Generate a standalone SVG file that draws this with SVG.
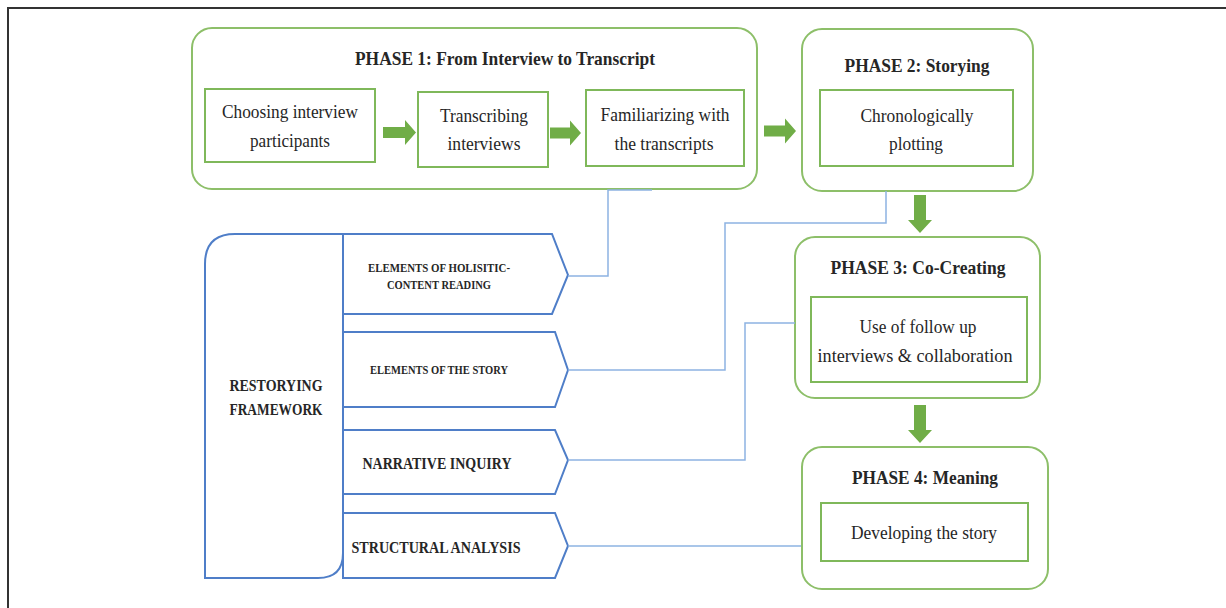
<svg xmlns="http://www.w3.org/2000/svg" width="1226" height="608" viewBox="0 0 1226 608">
<style>
.phase{fill:#fff;stroke:#8dbf69;stroke-width:2}
.inner{fill:#fff;stroke:#7fb85a;stroke-width:2}
.garrow{fill:#70ad47}
.blue{fill:#fff;stroke:#4f7ec8;stroke-width:2;stroke-linejoin:miter}
.conn{fill:none;stroke:#8db3e2;stroke-width:1.5}
.t{font-family:"Liberation Serif","Times New Roman",serif;fill:#262626;text-anchor:middle}
.title{font-size:19px;font-weight:bold}
.body{font-size:19px}
.cap{font-weight:bold}
</style>
<g id="frame"><path d="M8,608 L8,8 L1226,8" fill="none" stroke="#333" stroke-width="2"/></g>

<g id="phase1">
<rect class="phase" x="192" y="28" width="565" height="161" rx="20"/>
<text class="t title" x="505" y="65" textLength="300" lengthAdjust="spacingAndGlyphs">PHASE 1: From Interview to Transcript</text>
</g>
<g id="choosing">
<rect class="inner" x="205" y="89" width="170" height="73"/>
<text class="t body" x="290" y="118" textLength="136" lengthAdjust="spacingAndGlyphs">Choosing interview</text>
<text class="t body" x="290" y="147" textLength="80" lengthAdjust="spacingAndGlyphs">participants</text>
</g>
<g id="transcribing">
<rect class="inner" x="418" y="92" width="130" height="75"/>
<text class="t body" x="484" y="122" textLength="88" lengthAdjust="spacingAndGlyphs">Transcribing</text>
<text class="t body" x="484" y="150" textLength="73" lengthAdjust="spacingAndGlyphs">interviews</text>
</g>
<g id="familiarizing">
<rect class="inner" x="586" y="90" width="158" height="76"/>
<text class="t body" x="665" y="121" textLength="129" lengthAdjust="spacingAndGlyphs">Familiarizing with</text>
<text class="t body" x="664" y="150" textLength="99" lengthAdjust="spacingAndGlyphs">the transcripts</text>
</g>

<g id="phase2">
<rect class="phase" x="802" y="29" width="231" height="162" rx="20"/>
<text class="t title" x="917" y="72" textLength="145" lengthAdjust="spacingAndGlyphs">PHASE 2: Storying</text>
<rect class="inner" x="820" y="90" width="193" height="76"/>
<text class="t body" x="917" y="122" textLength="113" lengthAdjust="spacingAndGlyphs">Chronologically</text>
<text class="t body" x="916" y="150" textLength="54" lengthAdjust="spacingAndGlyphs">plotting</text>
</g>

<g id="phase3">
<rect class="phase" x="795" y="237" width="245" height="161" rx="20"/>
<text class="t title" x="918" y="274" textLength="175" lengthAdjust="spacingAndGlyphs">PHASE 3: Co-Creating</text>
<rect class="inner" x="811" y="297" width="216" height="85"/>
<text class="t body" x="918" y="333" textLength="117" lengthAdjust="spacingAndGlyphs">Use of follow up</text>
<text class="t body" x="915" y="362" textLength="195" lengthAdjust="spacingAndGlyphs">interviews &amp; collaboration</text>
</g>

<g id="phase4">
<rect class="phase" x="802" y="447" width="246" height="142" rx="20"/>
<text class="t title" x="925" y="484" textLength="146" lengthAdjust="spacingAndGlyphs">PHASE 4: Meaning</text>
<rect class="inner" x="821" y="503" width="207" height="58"/>
<text class="t body" x="924" y="539" textLength="146" lengthAdjust="spacingAndGlyphs">Developing the story</text>
</g>

<g id="restorying">
<path class="blue" d="M205,578 L205,264 Q205,234 235,234 L343,234 L343,553 Q343,578 318,578 Z"/>
<text class="t cap" style="font-size:16px" x="276" y="391" textLength="93" lengthAdjust="spacingAndGlyphs">RESTORYING</text>
<text class="t cap" style="font-size:16px" x="276" y="415" textLength="93" lengthAdjust="spacingAndGlyphs">FRAMEWORK</text>
</g>
<g id="holistic">
<polygon class="blue" points="343,234 552,234 568,275 552,314 343,314"/>
<text class="t cap" style="font-size:11.5px" x="439" y="272" textLength="142" lengthAdjust="spacingAndGlyphs">ELEMENTS OF HOLISITIC-</text>
<text class="t cap" style="font-size:11.5px" x="439" y="289" textLength="104" lengthAdjust="spacingAndGlyphs">CONTENT READING</text>
</g>
<g id="story">
<polygon class="blue" points="343,332 555,332 568,370 555,407 343,407"/>
<text class="t cap" style="font-size:11.5px" x="439" y="374" textLength="138" lengthAdjust="spacingAndGlyphs">ELEMENTS OF THE STORY</text>
</g>
<g id="narrative">
<polygon class="blue" points="343,430 555,430 568,460 555,494 343,494"/>
<text class="t cap" style="font-size:16px" x="437" y="469" textLength="149" lengthAdjust="spacingAndGlyphs">NARRATIVE INQUIRY</text>
</g>
<g id="structural">
<polygon class="blue" points="343,513 555,513 568,546 555,578 343,578"/>
<text class="t cap" style="font-size:16px" x="436" y="553" textLength="169" lengthAdjust="spacingAndGlyphs">STRUCTURAL ANALYSIS</text>
</g>

<g id="connectors">
<polyline class="conn" points="568,276 608,276 608,190 652,190"/>
<polyline class="conn" points="568,370 725,370 725,223 886,223 886,191"/>
<polyline class="conn" points="568,460 745,460 745,323 795,323"/>
<polyline class="conn" points="568,546 801,546"/>
<polygon class="garrow" points="383,127 405,127 405,120 416,132.5 405,145 405,138 383,138"/>
<polygon class="garrow" points="550,127.5 570,127.5 570,120.5 581,133 570,145.5 570,138.5 550,138.5"/>
<polygon class="garrow" points="764,125.5 785,125.5 785,118.5 796,131 785,143.5 785,136.5 764,136.5"/>
<polygon class="garrow" points="914,195 926,195 926,220 932,220 920,233 908,220 914,220"/>
<polygon class="garrow" points="914,405 926,405 926,430 932,430 920,443 908,430 914,430"/>
</g>
</svg>
